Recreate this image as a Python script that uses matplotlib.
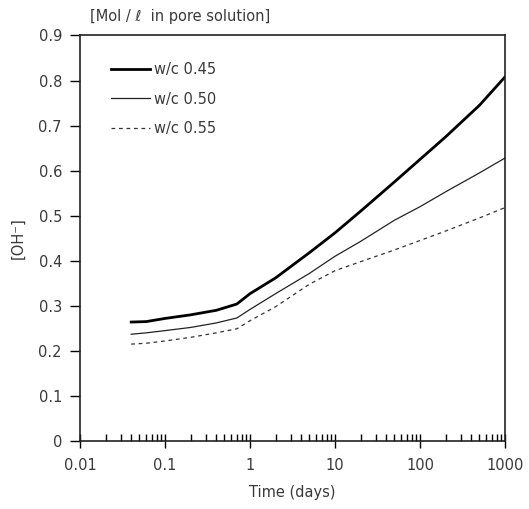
import matplotlib
matplotlib.use("Agg")
import matplotlib.pyplot as plt
from matplotlib.ticker import LogLocator, FixedLocator, NullFormatter

days = [0.04, 0.06, 0.1, 0.2, 0.4, 0.7, 1, 2, 5, 10, 20, 50, 100, 200, 500, 1000]
wc045 = [0.264, 0.265, 0.272, 0.280, 0.290, 0.304, 0.327, 0.362, 0.418, 0.462, 0.510, 0.575, 0.625, 0.675, 0.745, 0.808]
wc050 = [0.237, 0.240, 0.245, 0.252, 0.262, 0.273, 0.292, 0.327, 0.372, 0.410, 0.443, 0.490, 0.520, 0.553, 0.595, 0.628]
wc055 = [0.215, 0.217, 0.222, 0.230, 0.240, 0.249, 0.267, 0.298, 0.348, 0.378, 0.398, 0.424, 0.445, 0.466, 0.495, 0.518]
labels = ["w/c 0.45", "w/c 0.50", "w/c 0.55"]
xticks = [0.01, 0.1, 1, 10, 100, 1000]
xticklabels = ["0.01", "0.1", "1", "10", "100", "1000"]
yticks = [0, 0.1, 0.2, 0.3, 0.4, 0.5, 0.6, 0.7, 0.8, 0.9]
yticklabels = ["0", "0.1", "0.2", "0.3", "0.4", "0.5", "0.6", "0.7", "0.8", "0.9"]

plt.rcParams['font.family'] = ['DejaVu Sans']
txt = '#3a3a3a'

fig = plt.figure(figsize=(5.29, 5.09), dpi=100)
ax = fig.add_axes([80/529, 1-441/509, 425/529, 405.5/509])

ax.plot(days, wc045, color='black', lw=2.0, label=labels[0])
ax.plot(days, wc050, color='#222222', lw=0.9, label=labels[1])
ax.plot(days, wc055, color='#333333', lw=0.9, ls=(0, (3, 3)), label=labels[2])

ax.set_xscale('log')
ax.set_xlim(0.01, 1000)
ax.set_ylim(0, 0.9)
ax.xaxis.set_major_locator(FixedLocator(xticks))
ax.set_xticklabels(xticklabels)
ax.xaxis.set_minor_locator(LogLocator(base=10, subs=range(2, 10), numticks=20))
ax.xaxis.set_minor_formatter(NullFormatter())
ax.set_yticks(yticks)
ax.set_yticklabels(yticklabels)

ax.tick_params(axis='x', which='major', direction='inout', length=10, width=1, labelsize=10.5, labelcolor=txt, pad=7)
ax.tick_params(axis='x', which='minor', direction='in', length=5, width=1)
ax.tick_params(axis='y', which='major', direction='out', length=7, width=1, labelsize=10.5, labelcolor=txt, pad=6)
for s in ax.spines.values():
    s.set_color('#222222')
    s.set_linewidth(1.2)

ax.set_xlabel("Time (days)", fontsize=10.5, color=txt, labelpad=9)
ax.set_ylabel("[OH⁻]", fontsize=10.5, color=txt)
ax.yaxis.set_label_coords(-0.128, 0.5)
fig.text(90/529, 1-17/509, "[Mol / ℓ  in pore solution]", fontsize=10.5, color=txt, ha='left', va='center')

leg = ax.legend(loc='upper left', bbox_to_anchor=(0.042, 0.967), frameon=False,
                handlelength=2.7, handletextpad=0.25, labelspacing=1.0, fontsize=10.5)
for t in leg.get_texts():
    t.set_color(txt)

fig.savefig("out.png", dpi=100)
